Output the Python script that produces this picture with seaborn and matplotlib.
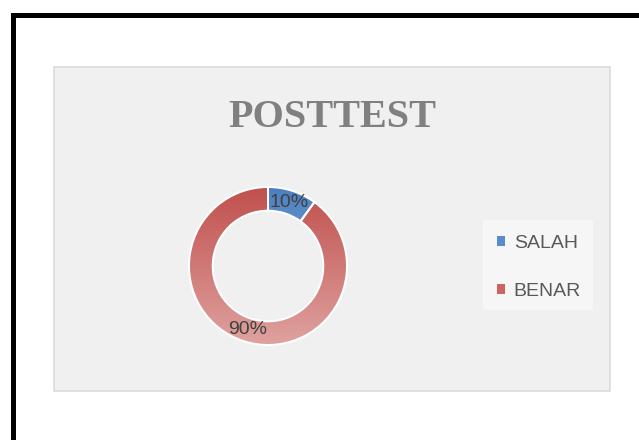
import numpy as np
import matplotlib
matplotlib.use("Agg")
import matplotlib.pyplot as plt
import seaborn as sns
from matplotlib.patches import Rectangle, Patch

# ---- data ----
categories = ["SALAH", "BENAR"]
values = [10, 90]
title = "POSTTEST"

# gradient colours (top -> bottom) per category
grad_colors = {
    "SALAH": ["#4a7fc0", "#a9c2e2"],
    "BENAR": ["#c0504d", "#dfa2a0"],
}
legend_colors = {"SALAH": "#5a8ccb", "BENAR": "#cc6461"}

sns.set_theme(style="white")
plt.rcParams['font.family'] = ['Liberation Sans', 'DejaVu Sans']

W, H = 639, 440
fig = plt.figure(figsize=(W / 100, H / 100), dpi=100)
fig.patch.set_facecolor('white')


def fx(x):
    return x / W


def fy(y):
    return 1 - y / H


PX = 72 / 100  # points per pixel

# outer black border (only top/left visible)
fig.add_artist(Rectangle((fx(12.5), -0.2), 2, fy(14.5) + 0.2,
                         transform=fig.transFigure, fill=False,
                         edgecolor='black', linewidth=5 * PX, clip_on=False))
# chart panel
fig.add_artist(Rectangle((fx(53.5), fy(390.5)), (609.5 - 53.5) / W, (390.5 - 67) / H,
                         transform=fig.transFigure, facecolor='#f0f0f0',
                         edgecolor='#d9d9d9', linewidth=1.5 * PX, zorder=0))

# title
fig.text(fx(332), fy(127), title, ha='center', va='baseline', fontsize=29,
         fontweight='bold', family=['Liberation Serif', 'DejaVu Serif'],
         color='#808080')

# donut
R_PX = 79
half = 92
ax = fig.add_axes([fx(268 - half), fy(266 + half), 2 * half / W, 2 * half / H])
ax.set_facecolor('none')
wedges, texts, autotexts = ax.pie(
    values, startangle=90, counterclock=False, radius=1,
    colors=[legend_colors[c] for c in categories],
    wedgeprops=dict(width=0.3, edgecolor='white', linewidth=2 * PX),
    autopct=lambda p: f"{p:.0f}%", pctdistance=0.85,
    textprops=dict(fontsize=14, color='#404040'))

grad = np.linspace(0, 1, 256).reshape(-1, 1)
for w, c in zip(wedges, categories):
    cmap = sns.blend_palette(grad_colors[c], n_colors=256, as_cmap=True)
    im = ax.imshow(grad, cmap=cmap, extent=[-1, 1, -1, 1], origin='upper',
                   aspect='auto', zorder=2, interpolation='bilinear')
    im.set_clip_path(w)
    w.set_facecolor('none')
    w.set_zorder(3)
for t in autotexts:
    t.set_zorder(5)

lim = half / R_PX
ax.set_xlim(-lim, lim)
ax.set_ylim(-lim, lim)
ax.set_aspect('equal')
ax.axis('off')

# legend
fig.add_artist(Rectangle((fx(483), fy(310)), 110 / W, 90 / H,
                         transform=fig.transFigure, facecolor='#f6f6f6',
                         edgecolor='none', zorder=1))
handles = [Patch(facecolor=legend_colors[c], edgecolor='none') for c in categories]
leg = fig.legend(handles, categories, loc='center',
                 bbox_to_anchor=(fx(539), fy(267.5)), frameon=False,
                 fontsize=14, handlelength=0.42, handleheight=0.42,
                 handletextpad=0.45, labelspacing=1.6, labelcolor='#595959')

fig.savefig("out.png", dpi=100)
